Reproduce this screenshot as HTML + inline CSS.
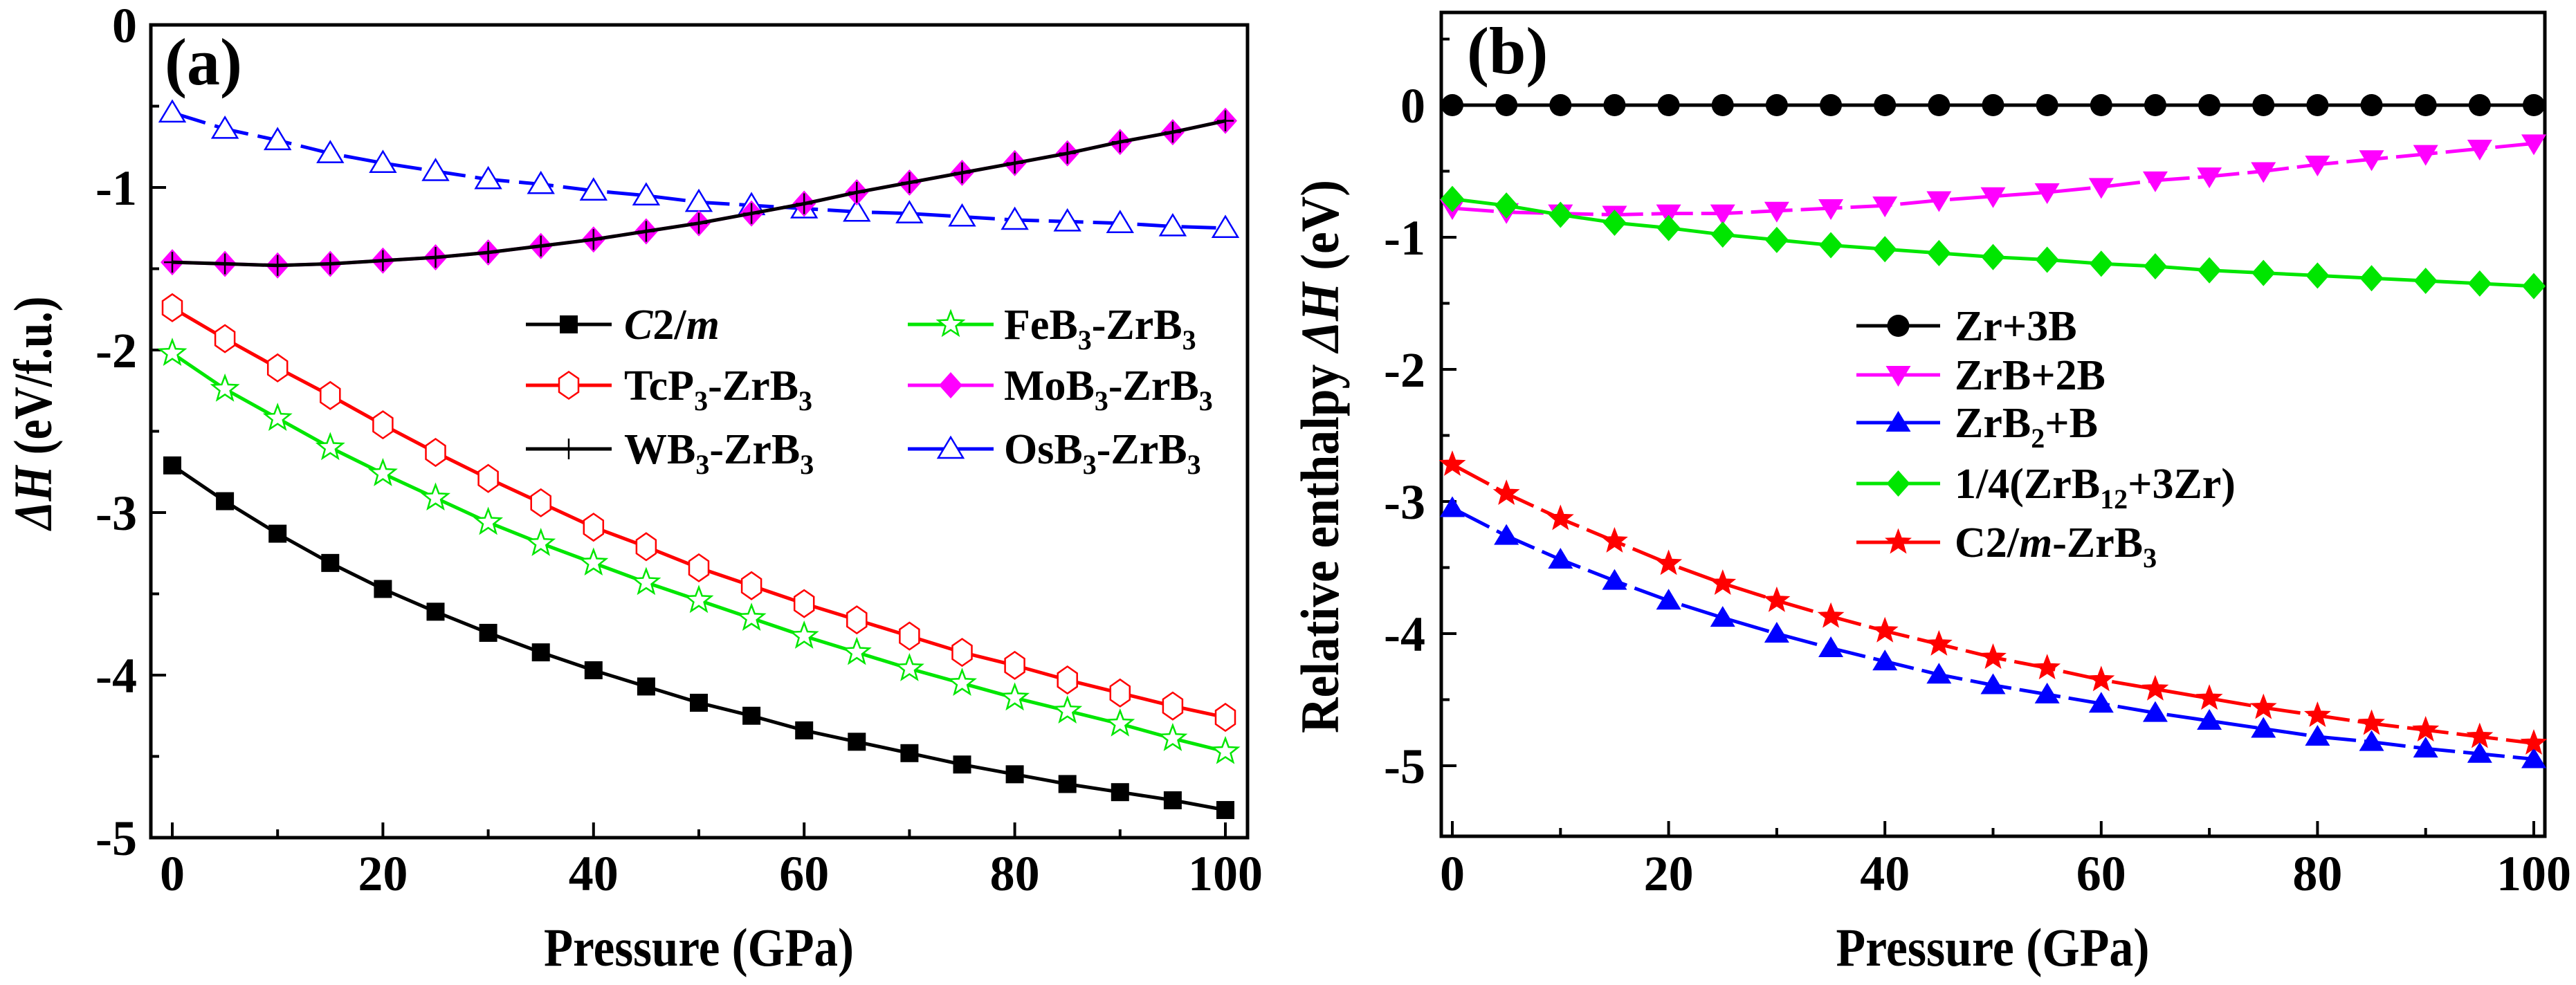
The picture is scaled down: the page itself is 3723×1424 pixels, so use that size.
<!DOCTYPE html>
<html><head><meta charset="utf-8"><style>
html,body{margin:0;padding:0;background:#fff;}
svg{display:block;}
text{font-family:"Liberation Serif","Times New Roman",serif;font-weight:bold;}
</style></head><body>
<svg id="fig" width="3723" height="1424" viewBox="0 0 3723 1424" xmlns="http://www.w3.org/2000/svg" font-family="Liberation Serif, serif" font-weight="bold"></svg>
<script>
const pressure=[0,5,10,15,20,25,30,35,40,45,50,55,60,65,70,75,80,85,90,95,100];
const xTicks=[0,20,40,60,80,100];
// panel a
const aC2m=[-2.71,-2.93,-3.13,-3.31,-3.47,-3.61,-3.74,-3.86,-3.97,-4.07,-4.17,-4.25,-4.34,-4.41,-4.48,-4.55,-4.61,-4.67,-4.72,-4.77,-4.83];
const aTcP3=[-1.74,-1.93,-2.11,-2.28,-2.46,-2.63,-2.79,-2.94,-3.09,-3.21,-3.34,-3.45,-3.56,-3.66,-3.76,-3.86,-3.94,-4.03,-4.11,-4.19,-4.26];
const aFeB3=[-2.02,-2.24,-2.42,-2.60,-2.76,-2.91,-3.06,-3.19,-3.31,-3.43,-3.54,-3.65,-3.76,-3.86,-3.96,-4.05,-4.14,-4.22,-4.30,-4.39,-4.47];
const aMoB3=[-1.46,-1.47,-1.48,-1.47,-1.45,-1.43,-1.40,-1.36,-1.32,-1.27,-1.22,-1.16,-1.10,-1.03,-0.97,-0.91,-0.85,-0.79,-0.72,-0.66,-0.59];
const aWB3=[-1.46,-1.47,-1.48,-1.47,-1.45,-1.43,-1.40,-1.36,-1.32,-1.27,-1.22,-1.16,-1.10,-1.03,-0.97,-0.91,-0.85,-0.79,-0.72,-0.66,-0.59];
const aOsB3=[-0.54,-0.64,-0.71,-0.79,-0.85,-0.90,-0.95,-0.98,-1.02,-1.05,-1.09,-1.11,-1.13,-1.15,-1.16,-1.18,-1.20,-1.21,-1.22,-1.24,-1.25];
const aYTicks=[0,-1,-2,-3,-4,-5];
// panel b
const bZr3B=[0,0,0,0,0,0,0,0,0,0,0,0,0,0,0,0,0,0,0,0,0];
const bZrB2B=[-0.78,-0.81,-0.82,-0.83,-0.82,-0.82,-0.80,-0.78,-0.76,-0.72,-0.69,-0.66,-0.62,-0.57,-0.54,-0.50,-0.45,-0.41,-0.37,-0.33,-0.29];
const bZrB2=[-3.05,-3.26,-3.44,-3.60,-3.75,-3.88,-4.00,-4.11,-4.21,-4.31,-4.39,-4.46,-4.53,-4.60,-4.66,-4.72,-4.78,-4.82,-4.87,-4.91,-4.95];
const bZrB12=[-0.71,-0.76,-0.83,-0.89,-0.93,-0.98,-1.02,-1.06,-1.09,-1.12,-1.15,-1.17,-1.20,-1.22,-1.25,-1.27,-1.29,-1.31,-1.33,-1.35,-1.37];
const bC2m=[-2.72,-2.94,-3.13,-3.30,-3.47,-3.62,-3.75,-3.87,-3.98,-4.08,-4.18,-4.26,-4.35,-4.42,-4.49,-4.56,-4.62,-4.68,-4.73,-4.78,-4.83];
const bYTicks=[0,-1,-2,-3,-4,-5];

const NS="http://www.w3.org/2000/svg";
const svg=document.getElementById('fig');
function mk(tag,attrs,parent){const e=document.createElementNS(NS,tag);for(const k in attrs)e.setAttribute(k,attrs[k]);(parent||svg).appendChild(e);return e;}

function panel(cfg){
  const g=mk('g',{});
  
  
  const X=v=>cfg.x0+(v-0)/100*(cfg.x100-cfg.x0);
  const Y=v=>cfg.y0-v*cfg.unit;
  xTicks.forEach(t=>{
    const tk=mk('line',{x1:X(t),x2:X(t),y1:cfg.bottom,y2:cfg.bottom-22,stroke:'#000','stroke-width':4},g);
    
    
    if(t<100) mk('line',{x1:X(t+10),x2:X(t+10),y1:cfg.bottom,y2:cfg.bottom-12,stroke:'#000','stroke-width':4},g);
    const lb=mk('text',{x:X(t),y:1287,'font-size':72,'text-anchor':'middle'},g);
    lb.textContent=t;
    
    
  });
  cfg.yt.forEach(t=>{
    const tk=mk('line',{x1:cfg.left,x2:cfg.left+22,y1:Y(t),y2:Y(t),stroke:'#000','stroke-width':4},g);
    
    
    const lb=mk('text',{x:cfg.ylx,y:Y(t)+25,'font-size':72,'text-anchor':'end'},g);
    lb.textContent=t;
    
    
  });
  cfg.minor.forEach(t=>{
    mk('line',{x1:cfg.left,x2:cfg.left+12,y1:Y(t),y2:Y(t),stroke:'#000','stroke-width':4},g);
  });
  const box=mk('rect',{x:cfg.left,y:cfg.top,width:cfg.right-cfg.left,height:cfg.bottom-cfg.top,fill:'none',stroke:'#000','stroke-width':5},g);
  
  
  return {g,X,Y};
}

function marker(g,type,cx,cy,color){
  let e;
  if(type==='square') e=mk('rect',{x:cx-13,y:cy-13,width:26,height:26,fill:color},g);
  else if(type==='hex'){const r=17,pts=[];for(let i=0;i<6;i++){const a=Math.PI/2+i*Math.PI/3;pts.push((cx+r*0.95*Math.cos(a)).toFixed(1)+','+(cy+r*1.15*Math.sin(a)).toFixed(1));}
    e=mk('polygon',{points:pts.join(' '),fill:'#fff',stroke:color,'stroke-width':2.5},g);}
  else if(type==='star'||type==='fstar'){const pts=[];for(let i=0;i<10;i++){const r=i%2?8:19;const a=-Math.PI/2+i*Math.PI/5;pts.push((cx+r*Math.cos(a)).toFixed(1)+','+(cy+r*Math.sin(a)).toFixed(1));}
    e=mk('polygon',{points:pts.join(' '),fill:type==='star'?'#fff':color,stroke:color,'stroke-width':type==='star'?2.5:1},g);}
  else if(type==='diamond') e=mk('polygon',{points:`${cx},${cy-19} ${cx+17},${cy} ${cx},${cy+19} ${cx-17},${cy}`,fill:color},g);
  else if(type==='plus'){e=mk('path',{d:`M${cx-12},${cy}H${cx+12}M${cx},${cy-15}V${cy+15}`,stroke:color,'stroke-width':2.5,fill:'none'},g);}
  else if(type==='tri') e=mk('polygon',{points:`${cx},${cy-17} ${cx+18},${cy+13} ${cx-18},${cy+13}`,fill:'#fff',stroke:color,'stroke-width':2.5},g);
  else if(type==='ftri') e=mk('polygon',{points:`${cx},${cy-17} ${cx+18},${cy+13} ${cx-18},${cy+13}`,fill:color},g);
  else if(type==='dtri') e=mk('polygon',{points:`${cx},${cy+17} ${cx+18},${cy-13} ${cx-18},${cy-13}`,fill:color},g);
  else if(type==='circle') e=mk('circle',{cx,cy,r:16,fill:color},g);
  
  
  return e;
}

function series(p,name,vals,color,type,dash){
  const g=mk('g',{},p.g);
  
  
  const d=pressure.map((x,i)=>(i?'L':'M')+p.X(x).toFixed(1)+','+p.Y(vals[i]).toFixed(1)).join('');
  const ln=mk('path',{d,fill:'none',stroke:color,'stroke-width':5,'stroke-dasharray':dash||'none'},g);
  
  
  pressure.forEach((x,i)=>marker(g,type,p.X(x),p.Y(vals[i]),color));
}

function legendEntry(parent,name,x1,x2,y,color,type,html,tx){
  const g=mk('g',{},parent);
  
  
  mk('line',{x1,x2,y1:y,y2:y,stroke:color,'stroke-width':5},g);
  marker(g,type,(x1+x2)/2,y,color);
  const t=mk('text',{x:tx,y:y+21,'font-size':62},g);
  t.innerHTML=html;
}

const GREEN='#00e600',MAG='#ff00ff',RED='#ff0000',BLUE='#0000ff';
const pa=panel({name:'panel-a',x0:249,x100:1771,y0:36,unit:235,left:218,right:1803,top:36,bottom:1211,yt:aYTicks,minor:[-0.5,-1.5,-2.5,-3.5,-4.5],ylx:198});
series(pa,'series-osb3',aOsB3,BLUE,'tri','50 14');
series(pa,'series-mob3',aMoB3,MAG,'diamond');
series(pa,'series-wb3',aWB3,'#000','plus');
series(pa,'series-c2m',aC2m,'#000','square');
series(pa,'series-feb3',aFeB3,GREEN,'star');
series(pa,'series-tcp3',aTcP3,RED,'hex');
const la=mk('g',{});
const sb=(s)=>`<tspan dy="15" font-size="40">${s}</tspan><tspan dy="-15">`;
legendEntry(la,'legend-c2m',760,884,469,'#000','square','<tspan font-style="italic">C</tspan>2/<tspan font-style="italic">m</tspan>',902);
legendEntry(la,'legend-tcp3',760,884,557,RED,'hex','TcP'+sb('3')+'-ZrB'+sb('3')+'</tspan></tspan>',902);
legendEntry(la,'legend-wb3',760,884,649,'#000','plus','WB'+sb('3')+'-ZrB'+sb('3')+'</tspan></tspan>',902);
legendEntry(la,'legend-feb3',1312,1436,469,GREEN,'star','FeB'+sb('3')+'-ZrB'+sb('3')+'</tspan></tspan>',1451);
legendEntry(la,'legend-mob3',1312,1436,557,MAG,'diamond','MoB'+sb('3')+'-ZrB'+sb('3')+'</tspan></tspan>',1451);
legendEntry(la,'legend-osb3',1312,1436,649,BLUE,'tri','OsB'+sb('3')+'-ZrB'+sb('3')+'</tspan></tspan>',1451);
let t=mk('text',{x:238,y:122,'font-size':96});t.textContent='(a)';
t=mk('text',{x:1010,y:1396,'font-size':78,'text-anchor':'middle',textLength:448,lengthAdjust:'spacingAndGlyphs'});t.textContent='Pressure (GPa)';
t=mk('text',{x:0,y:0,'font-size':78,'text-anchor':'middle',transform:'translate(74,597) rotate(-90)',textLength:337,lengthAdjust:'spacingAndGlyphs'});t.innerHTML='<tspan font-style="italic">ΔH</tspan> (eV/f.u.)';

const pb=panel({name:'panel-b',x0:2099,x100:3662,y0:152,unit:191,left:2083,right:3678,top:18,bottom:1209,yt:bYTicks,minor:[0.5,-0.5,-1.5,-2.5,-3.5,-4.5],ylx:2060});
series(pb,'series-zr3b',bZr3B,'#000','circle');
series(pb,'series-zrb-2b',bZrB2B,MAG,'dtri','60 12');
series(pb,'series-zrb12',bZrB12,GREEN,'diamond');
series(pb,'series-zrb2-b',bZrB2,BLUE,'ftri','60 12');
series(pb,'series-c2m-zrb3',bC2m,RED,'fstar','60 12');
const lb=mk('g',{});
legendEntry(lb,'legend-zr3b',2683,2804,471,'#000','circle','Zr+3B',2825);
legendEntry(lb,'legend-zrb-2b',2683,2804,542,MAG,'dtri','ZrB+2B',2825);
legendEntry(lb,'legend-zrb2-b',2683,2804,611,BLUE,'ftri','ZrB'+sb('2')+'+B</tspan>',2825);
legendEntry(lb,'legend-zrb12',2683,2804,699,GREEN,'diamond','1/4(ZrB'+sb('12')+'+3Zr)</tspan>',2825);
legendEntry(lb,'legend-c2m-zrb3',2683,2804,784,RED,'fstar','C2/<tspan font-style="italic">m</tspan>-ZrB'+sb('3')+'</tspan>',2825);
t=mk('text',{x:2120,y:106,'font-size':96});t.textContent='(b)';
t=mk('text',{x:2880,y:1396,'font-size':78,'text-anchor':'middle',textLength:453,lengthAdjust:'spacingAndGlyphs'});t.textContent='Pressure (GPa)';
t=mk('text',{x:0,y:0,'font-size':78,'text-anchor':'middle',transform:'translate(1934,660) rotate(-90)',textLength:800,lengthAdjust:'spacingAndGlyphs'});t.innerHTML='Relative enthalpy <tspan font-style="italic">ΔH</tspan> (eV)';
</script>
</body></html>
